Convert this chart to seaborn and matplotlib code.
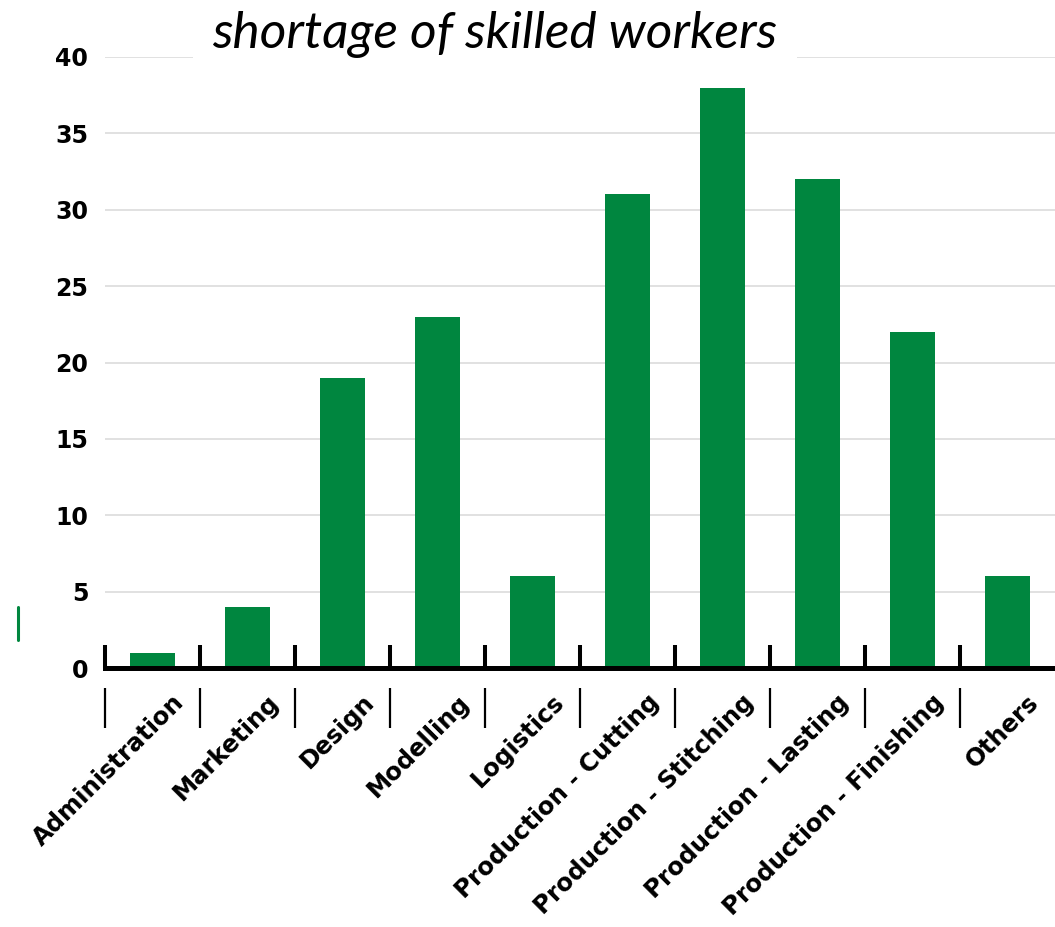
import matplotlib
matplotlib.use("Agg")
import matplotlib.pyplot as plt
import matplotlib.transforms as mtransforms
from matplotlib.lines import Line2D
import seaborn as sns
import pandas as pd
import numpy as np

categories = ["Administration", "Marketing", "Design", "Modelling", "Logistics",
              "Production - Cutting", "Production - Stitching", "Production - Lasting",
              "Production - Finishing", "Others"]
values = [1, 4, 19, 23, 6, 31, 38, 32, 22, 6]
yticks = [0, 5, 10, 15, 20, 25, 30, 35, 40]
title = "shortage of skilled workers"

GREEN = "#00863F"

sns.set_style("white")
plt.rcParams["font.family"] = ["DejaVu Sans"]
plt.rcParams["text.color"] = "black"
plt.rcParams["xtick.color"] = "black"
plt.rcParams["ytick.color"] = "black"
plt.rcParams["xtick.labelcolor"] = "black"
plt.rcParams["ytick.labelcolor"] = "black"

fig = plt.figure(figsize=(10.55, 9.27), dpi=100)
ax = fig.add_axes([105/1055, (927-668)/927, 1 - 105/1055, (668-57)/927])

df = pd.DataFrame({"category": categories, "value": values})
sns.barplot(data=df, x="category", y="value", color=GREEN, width=0.465,
            saturation=1, ax=ax, edgecolor="none")

ax.set_xlim(-0.5, len(categories) - 0.5)
ax.set_ylim(0, 40)
ax.set_yticks(yticks)
ax.set_xlabel("")
ax.set_ylabel("")

for s in ["top", "right", "left"]:
    ax.spines[s].set_visible(False)
ax.spines["bottom"].set_linewidth(3.6)
ax.spines["bottom"].set_color("black")
ax.spines["bottom"].set_zorder(5)

ax.yaxis.grid(True, color="#d9d9d9", linewidth=1.1)
ax.set_axisbelow(True)

# y tick labels
ax.tick_params(axis="y", length=0, pad=12, labelsize=17, labelcolor="black")
for lab in ax.get_yticklabels():
    lab.set_fontweight("bold")

# x ticks: labels at centers, boundary marks as minor ticks
bounds = np.arange(-0.5, len(categories) - 0.5, 1.0)
ax.set_xticks(bounds, minor=True)
ax.tick_params(axis="x", which="minor", bottom=True, direction="in", length=16.5,
               width=2.9, color="black")
ax.tick_params(axis="x", which="major", bottom=True, length=0, pad=22, labelsize=17.5,
               labelcolor="black")
offset = mtransforms.ScaledTranslation(28/100, 0, fig.dpi_scale_trans)
for lab in ax.get_xticklabels():
    lab.set_rotation(45)
    lab.set_ha("right")
    lab.set_va("center")
    lab.set_rotation_mode("anchor")
    lab.set_fontweight("bold")
    lab.set_transform(lab.get_transform() + offset)

# lower separator marks
ax.vlines(bounds, -20/611, -60/611, transform=ax.get_xaxis_transform(),
          colors="black", linewidth=1.6, clip_on=False)

# title with white background
fig.text(495/1055, 1 - 34/927, title, ha="center", va="center", color="black",
         fontsize=37, fontstyle="italic", family=["Lato", "DejaVu Sans"],
         bbox=dict(facecolor="white", edgecolor="none", pad=14))

# small green mark at left
fig.add_artist(Line2D([18/1055, 18/1055], [1 - 607/927, 1 - 640/927],
                      color=GREEN, linewidth=2.2, transform=fig.transFigure))

fig.savefig("out.png", dpi=100)
